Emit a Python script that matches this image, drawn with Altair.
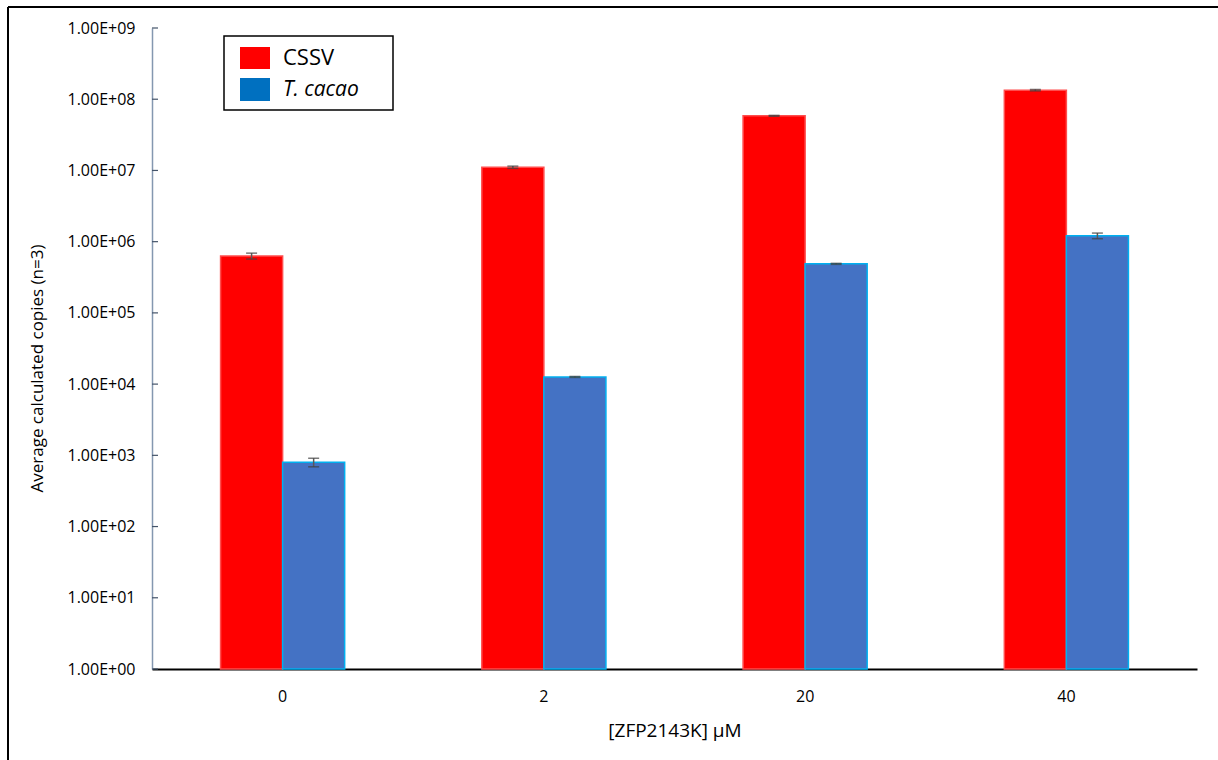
import altair as alt
import pandas as pd

# Copy numbers for the virus and host target at each ZFP2143K dose
doses = ["0", "2", "20", "40"]
series = ["CSSV", "T. cacao"]
cssv = [6.3e5, 1.11e7, 5.85e7, 1.34e8]
cssv_err = [6.0e4, 4.0e5, 8.0e5, 3.0e6]
cacao = [8.0e2, 1.26e4, 4.88e5, 1.21e6]
cacao_err = [1.1e2, 2.0e2, 8.0e3, 1.1e5]
tick_values = [10 ** k for k in range(10)]

bar_fill = ["#FF0000", "#4472C4"]
bar_edge = ["#FF4D4D", "#00B0F0"]
legend_fill = ["#FF0000", "#0070C0"]

rows = []
for d, v, e in zip(doses, cssv, cssv_err):
    rows.append({"dose": d, "series": "CSSV", "value": v, "lo": v - e, "hi": v + e})
for d, v, e in zip(doses, cacao, cacao_err):
    rows.append({"dose": d, "series": "T. cacao", "value": v, "lo": v - e, "hi": v + e})
df = pd.DataFrame(rows)

W, H = 1045, 641
FONT = "Open Sans"

yscale = alt.Scale(type="log", domain=[1, 1e9], nice=False)
xscale = alt.Scale(domain=doses, paddingInner=0.525, paddingOuter=0.2625)
oscale = alt.Scale(domain=series, paddingInner=0, paddingOuter=0)

x_enc = alt.X(
    "dose:N",
    scale=xscale,
    sort=doses,
    axis=alt.Axis(
        title=None,
        labelAngle=0,
        ticks=False,
        domainColor="#000000",
        domainWidth=2,
        labelFont=FONT,
        labelFontSize=16,
        labelColor="#000000",
        labelPadding=19,
    ),
)

bars = alt.Chart(df).mark_bar(strokeWidth=1.5).encode(
    x=x_enc,
    xOffset=alt.XOffset("series:N", scale=oscale),
    y=alt.Y(
        "value:Q",
        scale=yscale,
        axis=alt.Axis(
            title=None,
            values=tick_values,
            ticks=False,
            grid=False,
            domainColor="#8497B0",
            domainWidth=1.5,
            labelFont=FONT,
            labelFontSize=16,
            labelColor="#000000",
            labelPadding=17,
            labelExpr="'1.00E+' + (round(log(datum.value)/LN10) < 10 ? '0' : '') + round(log(datum.value)/LN10)",
        ),
    ),
    y2=alt.datum(1),
    fill=alt.Fill("series:N", scale=alt.Scale(domain=series, range=bar_fill), legend=None),
    stroke=alt.Stroke("series:N", scale=alt.Scale(domain=series, range=bar_edge), legend=None),
)

err_rule = alt.Chart(df).mark_rule(color="#595959", strokeWidth=1.5).encode(
    x=alt.X("dose:N", scale=xscale, sort=doses),
    xOffset=alt.XOffset("series:N", scale=oscale),
    y=alt.Y("lo:Q", scale=yscale),
    y2="hi:Q",
)
cap_lo = alt.Chart(df).mark_tick(color="#404040", orient="horizontal", size=11, thickness=1.5).encode(
    x=alt.X("dose:N", scale=xscale, sort=doses),
    xOffset=alt.XOffset("series:N", scale=oscale),
    y=alt.Y("lo:Q", scale=yscale),
)
cap_hi = cap_lo.encode(y=alt.Y("hi:Q", scale=yscale))

# Inward-pointing tick marks on the value axis
ticks_df = pd.DataFrame({"t": tick_values})
y_ticks = alt.Chart(ticks_df).mark_rule(color="#44546A", strokeWidth=1.2).encode(
    y=alt.Y("t:Q", scale=yscale),
    x=alt.value(0),
    x2=alt.value(6),
)

one = pd.DataFrame({"k": [0]})

y_title = alt.Chart(one).mark_text(
    text="Average calculated copies (n=3)", angle=270, font=FONT, fontSize=17, color="#000000"
).encode(x=alt.value(-114), y=alt.value(H / 2 + 20))

x_title = alt.Chart(one).mark_text(
    text="[ZFP2143K] µM", font=FONT, fontSize=19, color="#000000"
).encode(x=alt.value(523), y=alt.value(703))

# Outer frame (top and left edges)
frame_top = alt.Chart(one).mark_rule(color="#000000", strokeWidth=2).encode(
    x=alt.value(-144), x2=alt.value(W + 30), y=alt.value(-21)
)
frame_left = alt.Chart(one).mark_rule(color="#000000", strokeWidth=2).encode(
    x=alt.value(-144), y=alt.value(-21), y2=alt.value(H + 100)
)

# Legend box with swatches and labels
legend_box = alt.Chart(one).mark_rect(fill="#FFFFFF", stroke="#000000", strokeWidth=1.5).encode(
    x=alt.value(72), x2=alt.value(241), y=alt.value(8), y2=alt.value(82)
)
swatch_cssv = alt.Chart(one).mark_rect(color=legend_fill[0]).encode(
    x=alt.value(88), x2=alt.value(118), y=alt.value(19), y2=alt.value(41)
)
swatch_cacao = alt.Chart(one).mark_rect(color=legend_fill[1]).encode(
    x=alt.value(88), x2=alt.value(118), y=alt.value(50), y2=alt.value(73)
)
leg_text1 = alt.Chart(one).mark_text(
    text=series[0], align="left", baseline="middle", font=FONT, fontSize=22, color="#000000"
).encode(x=alt.value(131), y=alt.value(30))
leg_text2 = alt.Chart(one).mark_text(
    text=series[1], align="left", baseline="middle", font=FONT, fontSize=21,
    fontStyle="italic", color="#000000"
).encode(x=alt.value(131), y=alt.value(62))

chart = (
    alt.layer(
        frame_top, frame_left,
        bars, err_rule, cap_lo, cap_hi, y_ticks,
        y_title, x_title,
        legend_box, swatch_cssv, swatch_cacao, leg_text1, leg_text2,
    )
    .properties(
        width=W,
        height=H,
        autosize=alt.AutoSizeParams(type="none"),
        padding={"left": 152, "top": 28, "right": 21, "bottom": 91},
        background="#FFFFFF",
    )
    .configure_view(stroke=None)
)

chart.save("out.html", embed_options={"renderer": "svg", "actions": False})
